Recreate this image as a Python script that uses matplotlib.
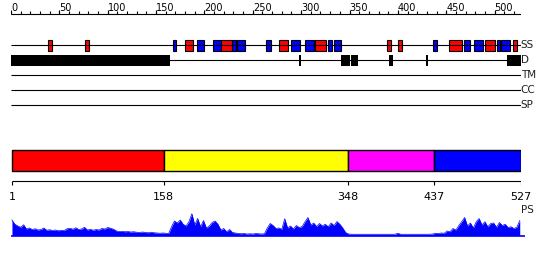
import matplotlib.pyplot as plt
from matplotlib.patches import Rectangle
import numpy as np

seq_len = 527

# secondary structure elements (H = helix, E = strand)
ss_start = [38, 77, 167, 180, 192, 209, 217, 229, 234, 264, 277, 289, 304, 314, 328, 334, 389, 400, 436, 453, 468, 479, 490, 502, 507, 519]
ss_end = [42, 81, 171, 188, 200, 217, 228, 233, 242, 269, 286, 299, 313, 326, 332, 341, 393, 404, 440, 466, 475, 488, 500, 506, 516, 523]
ss_type = ['H', 'H', 'E', 'H', 'E', 'E', 'H', 'E', 'E', 'E', 'H', 'E', 'E', 'H', 'E', 'E', 'H', 'H', 'E', 'H', 'E', 'E', 'H', 'E', 'E', 'H']

# disordered regions
dis_start = [0, 298, 341, 352, 391, 429, 513]
dis_end = [164, 300, 350, 359, 395, 431, 527]

# domains
dom_start = [1, 158, 348, 437]
dom_end = [158, 348, 437, 527]
dom_colors = ['#ff0000', '#ffff00', '#ff00ff', '#0000ff']
dom_ticks = [1, 158, 348, 437, 527]

track_names = ['SS', 'D', 'TM', 'CC', 'SP']

# PS profile, one value every 3 residues (1, 4, 7, ... 526)
ps_values = [
    0.62, 0.45, 0.38, 0.33, 0.43, 0.26, 0.30, 0.24, 0.27, 0.22,
    0.24, 0.30, 0.21, 0.23, 0.20, 0.22, 0.19, 0.21, 0.20, 0.27,
    0.29, 0.25, 0.31, 0.24, 0.26, 0.33, 0.22, 0.25, 0.21, 0.24,
    0.22, 0.28, 0.26, 0.32, 0.29, 0.25, 0.18, 0.16, 0.17, 0.15,
    0.16, 0.14, 0.15, 0.13, 0.12, 0.14, 0.12, 0.11, 0.13, 0.11,
    0.10, 0.09, 0.10, 0.09, 0.08, 0.35, 0.58, 0.50, 0.62, 0.45,
    0.38, 0.55, 0.87, 0.42, 0.68, 0.35, 0.60, 0.30, 0.38, 0.52,
    0.58, 0.45, 0.22, 0.28, 0.15, 0.24, 0.12, 0.10, 0.08, 0.07,
    0.08, 0.06, 0.07, 0.06, 0.08, 0.07, 0.06, 0.07, 0.30, 0.48,
    0.40, 0.28, 0.30, 0.25, 0.67, 0.30, 0.38, 0.26, 0.40, 0.32,
    0.36, 0.55, 0.72, 0.42, 0.50, 0.36, 0.48, 0.38, 0.45, 0.35,
    0.50, 0.40, 0.56, 0.45, 0.30, 0.12, 0.06, 0.05, 0.05, 0.05,
    0.05, 0.05, 0.05, 0.05, 0.05, 0.05, 0.05, 0.05, 0.05, 0.05,
    0.05, 0.05, 0.05, 0.09, 0.05, 0.05, 0.05, 0.05, 0.05, 0.05,
    0.05, 0.05, 0.05, 0.05, 0.05, 0.06, 0.09, 0.08, 0.10, 0.09,
    0.18, 0.15, 0.28, 0.22, 0.40, 0.55, 0.72, 0.38, 0.50, 0.30,
    0.55, 0.68, 0.42, 0.55, 0.35, 0.48, 0.50, 0.33, 0.52, 0.40,
    0.45, 0.32, 0.35, 0.28, 0.33, 0.60,
]
ps_res = np.arange(1, seq_len, 3)

W, H = 550, 260
fig = plt.figure(figsize=(W / 100, H / 100), dpi=100)
left, right = 11, 520.7

# main panel, y in pixel rows (top down)
ax = fig.add_axes([left / W, 0, (right - left) / W, 1])
ax.set_xlim(0, seq_len)
ax.set_ylim(H, 0)
ax.axis('off')

lw = 0.8

# top ruler
ax.hlines(14, 0, seq_len, color='k', lw=lw)
ax.vlines(np.arange(0, 521, 10), 11, 14, color='k', lw=lw)
ax.vlines(np.arange(0, 501, 50), 9.5, 14, color='k', lw=lw)
for t in range(0, 501, 50):
    ax.text(t, 11, str(t), ha='left', va='baseline', fontsize=7)

# feature tracks
rows = [45, 60, 75, 90, 105]
ax.hlines(rows, 0, seq_len, color='k', lw=lw)
for name, y in zip(track_names, rows):
    ax.text(seq_len, y, name, ha='left', va='center', fontsize=7.5, color='#222222')

for s, e, t in zip(ss_start, ss_end, ss_type):
    c = '#ff0000' if t == 'H' else '#0000ff'
    ax.add_patch(Rectangle((s, 40), e - s, 10.5, facecolor=c, edgecolor='k', lw=lw))

for s, e in zip(dis_start, dis_end):
    ax.add_patch(Rectangle((s, 55), e - s, 11, facecolor='k', edgecolor='none'))

# domain bar
for s, e, c in zip(dom_start, dom_end, dom_colors):
    ax.add_patch(Rectangle((s, 150), e - s, 20.5, facecolor=c, edgecolor='k', lw=1))

ax.hlines(180.5, 1, seq_len, color='k', lw=lw)
ax.vlines(dom_ticks, 180.5, 185, color='k', lw=lw)
for t in dom_ticks:
    ax.text(t, 200, str(t), ha='center', va='baseline', fontsize=8)

ax.text(seq_len, 210, 'PS', ha='left', va='center', fontsize=7.5, color='#222222')

# PS profile
ax_ps = fig.add_axes([left / W, (H - 235.5) / H, (right - left) / W, 25 / H])
ax_ps.set_xlim(0, seq_len)
ax_ps.set_ylim(0, 1)
ax_ps.axis('off')
ax_ps.fill_between(ps_res, 0, ps_values, color='#0000ff', lw=0)
ax_ps.plot(ps_res, ps_values, color='#0000ff', lw=0.5)
ax_ps.hlines(0, 0, 531, color='#0000ff', lw=1.2, clip_on=False)

plt.savefig('out.png', dpi=100)
